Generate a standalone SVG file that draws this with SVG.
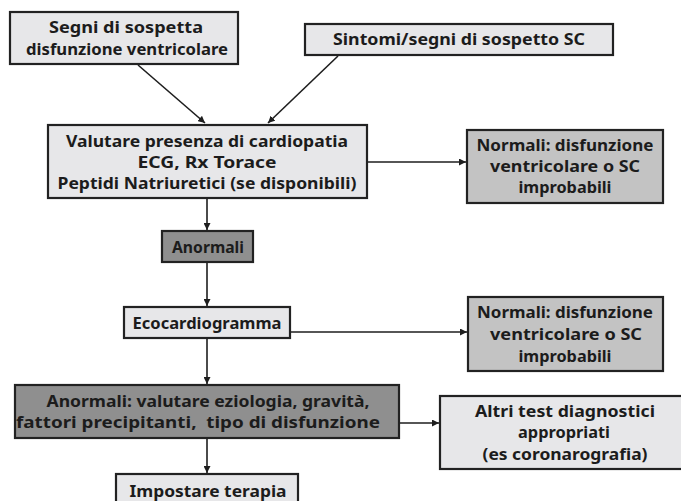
<svg xmlns="http://www.w3.org/2000/svg" width="681" height="501" viewBox="0 0 681 501">
  <defs>
    <marker id="arrow" viewBox="0 0 10 10" refX="10" refY="5" markerWidth="7" markerHeight="7" markerUnits="userSpaceOnUse" orient="auto">
      <path d="M0,0 L10,5 L0,10 z" fill="#1e1e1e"/>
    </marker>
  </defs>
  <style>
    .box { stroke: #222; stroke-width: 2.2; }
    .light { fill: #e7e7e9; }
    .mid { fill: #c3c3c3; }
    .dark { fill: #8f8f8f; }
    text { font-family: "Noto Sans", "DejaVu Sans", sans-serif; font-weight: bold; font-size: 16px; fill: #1c1c1c; text-anchor: middle; }
    .link { stroke: #1e1e1e; stroke-width: 1.6; fill: none; marker-end: url(#arrow); }
  </style>
  <rect width="681" height="501" fill="#ffffff"/>

  <g id="connectors">
    <line class="link" x1="138" y1="65" x2="205" y2="123"/>
    <line class="link" x1="338" y1="56" x2="268" y2="123"/>
    <line class="link" x1="367" y1="162" x2="466" y2="162"/>
    <line class="link" x1="207" y1="198" x2="207" y2="230"/>
    <line class="link" x1="207" y1="262" x2="207" y2="306"/>
    <line class="link" x1="290" y1="332" x2="467" y2="332"/>
    <line class="link" x1="207" y1="338" x2="207" y2="384"/>
    <line class="link" x1="399" y1="423" x2="439" y2="423"/>
    <line class="link" x1="207" y1="438" x2="207" y2="473"/>
  </g>

  <g id="segni">
    <rect class="box light" x="10" y="12" width="228" height="52"/>
    <text x="126" y="33" textLength="154" lengthAdjust="spacingAndGlyphs">Segni di sospetta</text>
    <text x="127" y="55" textLength="202" lengthAdjust="spacingAndGlyphs">disfunzione ventricolare</text>
  </g>

  <g id="sintomi">
    <rect class="box light" x="305" y="24" width="308" height="31"/>
    <text x="459" y="45" textLength="252" lengthAdjust="spacingAndGlyphs">Sintomi/segni di sospetto SC</text>
  </g>

  <g id="valutare">
    <rect class="box light" x="48" y="125" width="319" height="73"/>
    <text x="207" y="147" textLength="282" lengthAdjust="spacingAndGlyphs">Valutare presenza di cardiopatia</text>
    <text x="207" y="168" textLength="139" lengthAdjust="spacingAndGlyphs">ECG, Rx Torace</text>
    <text x="207" y="189" textLength="299" lengthAdjust="spacingAndGlyphs">Peptidi Natriuretici (se disponibili)</text>
  </g>

  <g id="normali-1">
    <rect class="box mid" x="467" y="130" width="196" height="73"/>
    <text x="565" y="151" textLength="177" lengthAdjust="spacingAndGlyphs">Normali: disfunzione</text>
    <text x="565" y="172" textLength="150" lengthAdjust="spacingAndGlyphs">ventricolare o SC</text>
    <text x="565" y="193" textLength="93" lengthAdjust="spacingAndGlyphs">improbabili</text>
  </g>

  <g id="anormali">
    <rect class="box dark" x="162" y="231" width="91" height="31"/>
    <text x="208" y="253" textLength="72" lengthAdjust="spacingAndGlyphs">Anormali</text>
  </g>

  <g id="ecocardiogramma">
    <rect class="box light" x="124" y="307" width="166" height="31"/>
    <text x="207" y="329" textLength="149" lengthAdjust="spacingAndGlyphs">Ecocardiogramma</text>
  </g>

  <g id="normali-2">
    <rect class="box mid" x="468" y="297" width="195" height="74"/>
    <text x="565" y="318" textLength="176" lengthAdjust="spacingAndGlyphs">Normali: disfunzione</text>
    <text x="566" y="340" textLength="152" lengthAdjust="spacingAndGlyphs">ventricolare o SC</text>
    <text x="565" y="362" textLength="93" lengthAdjust="spacingAndGlyphs">improbabili</text>
  </g>

  <g id="anormali-eziologia">
    <rect class="box dark" x="15" y="385" width="384" height="53"/>
    <text x="208" y="407" textLength="323" lengthAdjust="spacingAndGlyphs">Anormali: valutare eziologia, gravità,</text>
    <text x="198" y="428" textLength="364" lengthAdjust="spacingAndGlyphs" xml:space="preserve">fattori precipitanti,  tipo di disfunzione</text>
  </g>

  <g id="altri-test">
    <rect class="box light" x="440" y="396" width="244" height="73"/>
    <text x="565" y="417" textLength="180" lengthAdjust="spacingAndGlyphs">Altri test diagnostici</text>
    <text x="564" y="438" textLength="92" lengthAdjust="spacingAndGlyphs">appropriati</text>
    <text x="565" y="460" textLength="165" lengthAdjust="spacingAndGlyphs">(es coronarografia)</text>
  </g>

  <g id="impostare">
    <rect class="box light" x="116" y="474" width="182" height="40"/>
    <text x="208" y="497" textLength="157" lengthAdjust="spacingAndGlyphs">Impostare terapia</text>
  </g>
</svg>
